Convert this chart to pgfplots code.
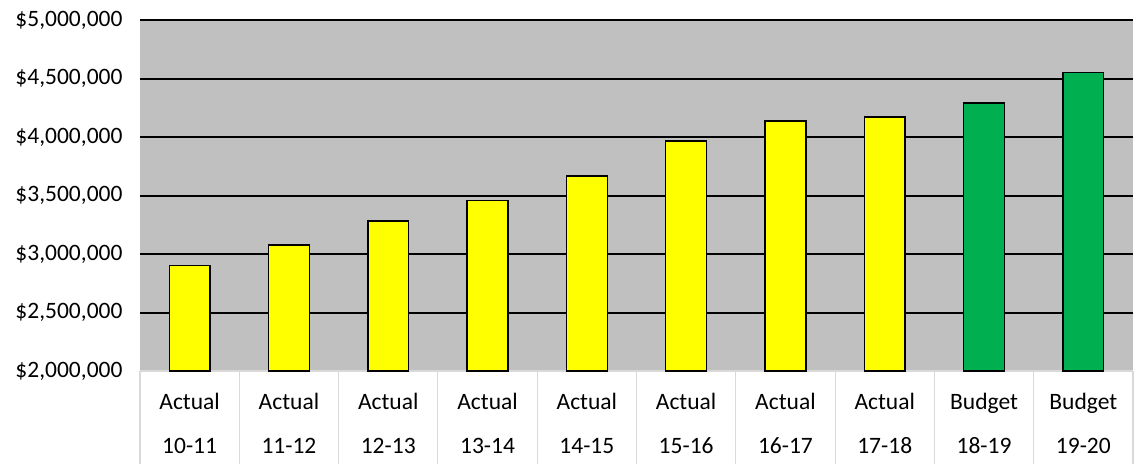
\documentclass[border=0pt]{standalone}
\usepackage{fontspec}
\setmainfont{Carlito}
\usepackage{pgfplots}
\pgfplotsset{compat=1.18}
\definecolor{plotgray}{HTML}{C0C0C0}
\definecolor{sepgray}{HTML}{D9D9D9}
\definecolor{baryellow}{HTML}{FFFF00}
\definecolor{bargreen}{HTML}{00B050}
\begin{document}
\begin{tikzpicture}
\useasboundingbox (-140pt,-93pt) rectangle (996pt,371pt);
\begin{axis}[
  at={(0,0)}, anchor=south west,
  scale only axis, width=993pt, height=351pt,
  xmin=-0.5, xmax=9.5, ymin=2000000, ymax=5000000,
  axis background/.style={fill=plotgray},
  separate axis lines,
  axis x line*=bottom, axis y line*=left,
  x axis line style={draw=sepgray, line width=1.2pt},
  y axis line style={draw=none},
  xtick={0,1,2,3,4,5,6,7,8,9},
  xticklabels={{Actual\\10-11},{Actual\\11-12},{Actual\\12-13},{Actual\\13-14},{Actual\\14-15},{Actual\\15-16},{Actual\\16-17},{Actual\\17-18},{Budget\\18-19},{Budget\\19-20}},
  xticklabel style={align=center, font=\fontsize{23.5}{44}\selectfont, yshift=-14pt},
  major x tick style={draw=none},
  extra x ticks={-0.5,0.5,1.5,2.5,3.5,4.5,5.5,6.5,7.5,8.5,9.5},
  extra x tick labels={},
  extra x tick style={xtick align=outside, major tick length=93pt, major x tick style={draw=sepgray, line width=1.2pt}, grid=none},
  ytick={2000000,2500000,3000000,3500000,4000000,4500000,5000000},
  yticklabels={{\$2,000,000},{\$2,500,000},{\$3,000,000},{\$3,500,000},{\$4,000,000},{\$4,500,000},{\$5,000,000}},
  scaled y ticks=false,
  yticklabel style={font=\fontsize{23.5}{28}\selectfont, xshift=-14pt},
  major y tick style={draw=none},
  ymajorgrids, major grid style={draw=black, line width=2pt},
  ybar, bar width=0.41, bar shift=0pt,
  clip=false,
]
\addplot[fill=baryellow, draw=black, line width=1.4pt] coordinates {
  (0,2900000) (1,3077000) (2,3282000) (3,3455000) (4,3667000)
  (5,3966000) (6,4137000) (7,4171000)};
\addplot[fill=bargreen, draw=black, line width=1.4pt] coordinates {
  (8,4292000) (9,4553000)};
\end{axis}
\end{tikzpicture}
\end{document}
